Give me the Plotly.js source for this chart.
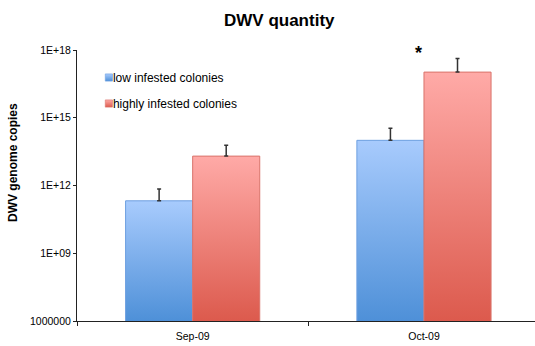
<!DOCTYPE html>
<html>
<head>
<meta charset="utf-8">
<script src="https://cdn.plot.ly/plotly-3.0.1.min.js"></script>
<style>
  html, body { margin: 0; padding: 0; background: #ffffff; }
  #chart { width: 535px; height: 346px; }
</style>
</head>
<body>
<div id="chart"></div>
<script>
// Months sampled
const months = ['Sep-09', 'Oct-09'];

// Mean DWV genome copies per group
const lowInfested = [2.1e11, 1.0e14];
const highInfested = [2.0e13, 1.05e17];

// Upper end of each error bar
const lowInfestedUpper = [7.0e11, 3.4e14];
const highInfestedUpper = [6.0e13, 4.2e17];

// Y axis tick positions and their labels
const yTickVals = [1e6, 1e9, 1e12, 1e15, 1e18];
const yTickText = ['1000000', '1E+09', '1E+12', '1E+15', '1E+18'];

const seriesNames = ['low infested colonies', 'highly infested colonies'];

const FONT = 'Liberation Sans, Arial, Helvetica, sans-serif';

function upperError(values, upper) {
  return values.map((v, i) => upper[i] - v);
}

const data = [
  {
    type: 'bar',
    name: seriesNames[0],
    legendgroup: 'a',
    x: months,
    y: lowInfested,
    marker: { color: '#7aaeea', line: { color: '#6d9fe0', width: 1 } },
    error_y: {
      type: 'data', symmetric: false,
      array: upperError(lowInfested, lowInfestedUpper),
      arrayminus: lowInfested.map(() => 0),
      color: '#333333', thickness: 1.5, width: 2
    },
    hoverinfo: 'x+y+name'
  },
  {
    type: 'bar',
    name: seriesNames[1],
    legendgroup: 'b',
    x: months,
    y: highInfested,
    marker: { color: '#ee817a', line: { color: '#d9736b', width: 1 } },
    error_y: {
      type: 'data', symmetric: false,
      array: upperError(highInfested, highInfestedUpper),
      arrayminus: highInfested.map(() => 0),
      color: '#333333', thickness: 1.5, width: 2
    },
    hoverinfo: 'x+y+name'
  }
];

const layout = {
  width: 535,
  height: 346,
  margin: { l: 77, r: 0, t: 50, b: 25 },
  paper_bgcolor: '#ffffff',
  plot_bgcolor: '#ffffff',
  font: { family: FONT, color: '#000000', size: 11 },
  title: {
    text: '<b>DWV quantity</b>',
    font: { family: FONT, size: 17, color: '#000000' },
    x: 0.522, xanchor: 'center',
    y: 0.942, yanchor: 'middle'
  },
  barmode: 'group',
  bargap: 0.42,
  bargroupgap: 0,
  showlegend: true,
  legend: {
    x: -0.009, xanchor: 'left',
    y: 0.952, yanchor: 'top',
    bgcolor: 'rgba(0,0,0,0)',
    font: { family: FONT, size: 12, color: '#000000' },
    tracegroupgap: 7,
    itemwidth: 30
  },
  xaxis: {
    type: 'category',
    range: [-0.5, 1.48],
    showline: true, linecolor: '#222222', linewidth: 1,
    showgrid: false, zeroline: false,
    ticks: 'outside', tickson: 'boundaries', ticklen: 4, tickcolor: '#222222',
    tickfont: { family: FONT, size: 10.5, color: '#000000' },
    ticklabelstandoff: 5,
    fixedrange: true
  },
  yaxis: {
    type: 'log',
    range: [6, 18],
    tickvals: yTickVals,
    ticktext: yTickText,
    showline: true, linecolor: '#222222', linewidth: 1,
    showgrid: false, zeroline: false,
    ticks: 'outside', ticklen: 3, tickcolor: '#222222',
    tickfont: { family: FONT, size: 10.5, color: '#000000' },
    fixedrange: true
  },
  annotations: [
    {
      // y-axis title, set a little above the axis middle
      x: -0.1397, y: 0.583, xref: 'paper', yref: 'paper',
      text: '<b>DWV genome copies</b>', showarrow: false, textangle: -90,
      xanchor: 'center', yanchor: 'middle',
      font: { family: FONT, size: 12, color: '#000000' }
    },
    {
      x: 'Oct-09', y: 18, xref: 'x', yref: 'y',
      text: '<b>*</b>', showarrow: false,
      xshift: -5, yshift: -3,
      font: { family: FONT, size: 18, color: '#000000' },
      xanchor: 'center', yanchor: 'middle'
    }
  ]
};

// Vertical light-to-dark fills for each series (top colour, bottom colour)
const fills = [
  ['#a8cbfd', '#4e90d8'],
  ['#ffaaa7', '#dc5a4d']
];

const NS = 'http://www.w3.org/2000/svg';

function makeGradient(defs, id, pair, units, y1, y2) {
  const g = document.createElementNS(NS, 'linearGradient');
  g.setAttribute('id', id);
  g.setAttribute('gradientUnits', units);
  g.setAttribute('x1', '0'); g.setAttribute('x2', '0');
  g.setAttribute('y1', y1); g.setAttribute('y2', y2);
  [[0, pair[0]], [1, pair[1]]].forEach(([off, col]) => {
    const s = document.createElementNS(NS, 'stop');
    s.setAttribute('offset', off);
    s.setAttribute('stop-color', col);
    g.appendChild(s);
  });
  defs.appendChild(g);
}

function addGradients(gd) {
  const svg = gd.querySelector('svg.main-svg');
  let defs = svg.querySelector('defs');
  if (!defs) { defs = document.createElementNS(NS, 'defs'); svg.insertBefore(defs, svg.firstChild); }
  const plotBottom = gd._fullLayout._size.h;
  // Log-axis bars start far below the plot, so each bar's fill runs from its top to the x axis
  gd.querySelectorAll('.barlayer .trace').forEach((t, i) => {
    t.querySelectorAll('.point path').forEach((p, j) => {
      const top = p.getBBox().y;
      const id = 'barfill' + i + '_' + j;
      makeGradient(defs, id, fills[i], 'userSpaceOnUse', top, plotBottom);
      p.style.fill = 'url(#' + id + ')';
    });
  });
  // Small square keys placed right before the legend text
  gd.querySelectorAll('.legend .traces').forEach((t, i) => {
    const id = 'keyfill' + i;
    makeGradient(defs, id, fills[i], 'objectBoundingBox', 0, 1);
    t.querySelectorAll('.legendpoints path').forEach(p => {
      p.style.fill = 'url(#' + id + ')';
      p.setAttribute('transform', 'translate(36,0) scale(0.6)');
    });
  });
}

const gd = document.getElementById('chart');
Plotly.newPlot(gd, data, layout, { displayModeBar: false, staticPlot: true })
  .then(addGradients);
</script>
</body>
</html>
